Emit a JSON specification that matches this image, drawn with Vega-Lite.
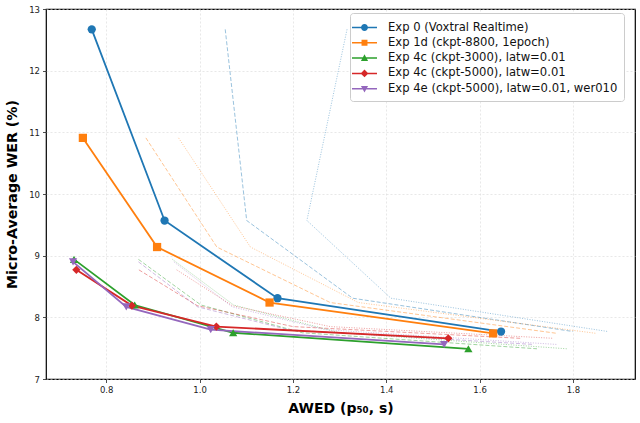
{
  "$schema": "https://vega.github.io/schema/vega-lite/v6.json",
  "width": 589,
  "height": 370,
  "autosize": "none",
  "padding": {"left": 46, "top": 9, "right": 5, "bottom": 44},
  "background": "white",
  "config": {
    "font": "DejaVu Sans",
    "view": {"stroke": "black", "strokeWidth": 1.2},
    "axis": {
      "domain": false,
      "grid": true,
      "gridColor": "#d8d8d8",
      "gridDash": [2, 2],
      "gridWidth": 0.6,
      "tickColor": "#222222",
      "tickSize": 3.5,
      "tickWidth": 0.8,
      "labelFontSize": 8.5,
      "labelColor": "#222222",
      "titleFontSize": 14.2,
      "titleFontWeight": "bold",
      "titleColor": "black"
    }
  },
  "data": {
    "values": [
      {"exp": "Exp 0 (Voxtral Realtime)", "stat": "p50", "i": 0, "awed": 0.769, "wer": 12.67},
      {"exp": "Exp 0 (Voxtral Realtime)", "stat": "p50", "i": 1, "awed": 0.925, "wer": 9.57},
      {"exp": "Exp 0 (Voxtral Realtime)", "stat": "p50", "i": 2, "awed": 1.167, "wer": 8.31},
      {"exp": "Exp 0 (Voxtral Realtime)", "stat": "p50", "i": 3, "awed": 1.646, "wer": 7.77},
      {"exp": "Exp 0 (Voxtral Realtime)", "stat": "p75", "i": 0, "awed": 1.055, "wer": 12.67},
      {"exp": "Exp 0 (Voxtral Realtime)", "stat": "p75", "i": 1, "awed": 1.101, "wer": 9.57},
      {"exp": "Exp 0 (Voxtral Realtime)", "stat": "p75", "i": 2, "awed": 1.328, "wer": 8.31},
      {"exp": "Exp 0 (Voxtral Realtime)", "stat": "p75", "i": 3, "awed": 1.8, "wer": 7.77},
      {"exp": "Exp 0 (Voxtral Realtime)", "stat": "p90", "i": 0, "awed": 1.316, "wer": 12.67},
      {"exp": "Exp 0 (Voxtral Realtime)", "stat": "p90", "i": 1, "awed": 1.23, "wer": 9.57},
      {"exp": "Exp 0 (Voxtral Realtime)", "stat": "p90", "i": 2, "awed": 1.41, "wer": 8.31},
      {"exp": "Exp 0 (Voxtral Realtime)", "stat": "p90", "i": 3, "awed": 1.875, "wer": 7.77},
      {"exp": "Exp 1d (ckpt-8800, 1epoch)", "stat": "p50", "i": 0, "awed": 0.75, "wer": 10.91},
      {"exp": "Exp 1d (ckpt-8800, 1epoch)", "stat": "p50", "i": 1, "awed": 0.909, "wer": 9.14},
      {"exp": "Exp 1d (ckpt-8800, 1epoch)", "stat": "p50", "i": 2, "awed": 1.15, "wer": 8.24},
      {"exp": "Exp 1d (ckpt-8800, 1epoch)", "stat": "p50", "i": 3, "awed": 1.629, "wer": 7.74},
      {"exp": "Exp 1d (ckpt-8800, 1epoch)", "stat": "p75", "i": 0, "awed": 0.885, "wer": 10.91},
      {"exp": "Exp 1d (ckpt-8800, 1epoch)", "stat": "p75", "i": 1, "awed": 1.037, "wer": 9.14},
      {"exp": "Exp 1d (ckpt-8800, 1epoch)", "stat": "p75", "i": 2, "awed": 1.28, "wer": 8.24},
      {"exp": "Exp 1d (ckpt-8800, 1epoch)", "stat": "p75", "i": 3, "awed": 1.766, "wer": 7.74},
      {"exp": "Exp 1d (ckpt-8800, 1epoch)", "stat": "p90", "i": 0, "awed": 0.955, "wer": 10.91},
      {"exp": "Exp 1d (ckpt-8800, 1epoch)", "stat": "p90", "i": 1, "awed": 1.109, "wer": 9.14},
      {"exp": "Exp 1d (ckpt-8800, 1epoch)", "stat": "p90", "i": 2, "awed": 1.34, "wer": 8.24},
      {"exp": "Exp 1d (ckpt-8800, 1epoch)", "stat": "p90", "i": 3, "awed": 1.85, "wer": 7.74},
      {"exp": "Exp 4c (ckpt-3000), latw=0.01", "stat": "p50", "i": 0, "awed": 0.731, "wer": 8.94},
      {"exp": "Exp 4c (ckpt-3000), latw=0.01", "stat": "p50", "i": 1, "awed": 0.861, "wer": 8.2},
      {"exp": "Exp 4c (ckpt-3000), latw=0.01", "stat": "p50", "i": 2, "awed": 1.072, "wer": 7.75},
      {"exp": "Exp 4c (ckpt-3000), latw=0.01", "stat": "p50", "i": 3, "awed": 1.576, "wer": 7.49},
      {"exp": "Exp 4c (ckpt-3000), latw=0.01", "stat": "p75", "i": 0, "awed": 0.869, "wer": 8.94},
      {"exp": "Exp 4c (ckpt-3000), latw=0.01", "stat": "p75", "i": 1, "awed": 1.003, "wer": 8.2},
      {"exp": "Exp 4c (ckpt-3000), latw=0.01", "stat": "p75", "i": 2, "awed": 1.22, "wer": 7.75},
      {"exp": "Exp 4c (ckpt-3000), latw=0.01", "stat": "p75", "i": 3, "awed": 1.723, "wer": 7.49},
      {"exp": "Exp 4c (ckpt-3000), latw=0.01", "stat": "p90", "i": 0, "awed": 0.942, "wer": 8.94},
      {"exp": "Exp 4c (ckpt-3000), latw=0.01", "stat": "p90", "i": 1, "awed": 1.073, "wer": 8.2},
      {"exp": "Exp 4c (ckpt-3000), latw=0.01", "stat": "p90", "i": 2, "awed": 1.3, "wer": 7.75},
      {"exp": "Exp 4c (ckpt-3000), latw=0.01", "stat": "p90", "i": 3, "awed": 1.787, "wer": 7.49},
      {"exp": "Exp 4c (ckpt-5000), latw=0.01", "stat": "p50", "i": 0, "awed": 0.736, "wer": 8.77},
      {"exp": "Exp 4c (ckpt-5000), latw=0.01", "stat": "p50", "i": 1, "awed": 0.855, "wer": 8.19},
      {"exp": "Exp 4c (ckpt-5000), latw=0.01", "stat": "p50", "i": 2, "awed": 1.036, "wer": 7.85},
      {"exp": "Exp 4c (ckpt-5000), latw=0.01", "stat": "p50", "i": 3, "awed": 1.533, "wer": 7.66},
      {"exp": "Exp 4c (ckpt-5000), latw=0.01", "stat": "p75", "i": 0, "awed": 0.87, "wer": 8.77},
      {"exp": "Exp 4c (ckpt-5000), latw=0.01", "stat": "p75", "i": 1, "awed": 0.995, "wer": 8.19},
      {"exp": "Exp 4c (ckpt-5000), latw=0.01", "stat": "p75", "i": 2, "awed": 1.2, "wer": 7.85},
      {"exp": "Exp 4c (ckpt-5000), latw=0.01", "stat": "p75", "i": 3, "awed": 1.687, "wer": 7.66},
      {"exp": "Exp 4c (ckpt-5000), latw=0.01", "stat": "p90", "i": 0, "awed": 0.951, "wer": 8.77},
      {"exp": "Exp 4c (ckpt-5000), latw=0.01", "stat": "p90", "i": 1, "awed": 1.07, "wer": 8.19},
      {"exp": "Exp 4c (ckpt-5000), latw=0.01", "stat": "p90", "i": 2, "awed": 1.28, "wer": 7.85},
      {"exp": "Exp 4c (ckpt-5000), latw=0.01", "stat": "p90", "i": 3, "awed": 1.758, "wer": 7.66},
      {"exp": "Exp 4e (ckpt-5000), latw=0.01, wer010", "stat": "p50", "i": 0, "awed": 0.729, "wer": 8.9},
      {"exp": "Exp 4e (ckpt-5000), latw=0.01, wer010", "stat": "p50", "i": 1, "awed": 0.843, "wer": 8.17},
      {"exp": "Exp 4e (ckpt-5000), latw=0.01, wer010", "stat": "p50", "i": 2, "awed": 1.024, "wer": 7.8},
      {"exp": "Exp 4e (ckpt-5000), latw=0.01, wer010", "stat": "p50", "i": 3, "awed": 1.524, "wer": 7.56},
      {"exp": "Exp 4e (ckpt-5000), latw=0.01, wer010", "stat": "p75", "i": 0, "awed": 0.869, "wer": 8.9},
      {"exp": "Exp 4e (ckpt-5000), latw=0.01, wer010", "stat": "p75", "i": 1, "awed": 0.996, "wer": 8.17},
      {"exp": "Exp 4e (ckpt-5000), latw=0.01, wer010", "stat": "p75", "i": 2, "awed": 1.19, "wer": 7.8},
      {"exp": "Exp 4e (ckpt-5000), latw=0.01, wer010", "stat": "p75", "i": 3, "awed": 1.716, "wer": 7.56},
      {"exp": "Exp 4e (ckpt-5000), latw=0.01, wer010", "stat": "p90", "i": 0, "awed": 0.945, "wer": 8.9},
      {"exp": "Exp 4e (ckpt-5000), latw=0.01, wer010", "stat": "p90", "i": 1, "awed": 1.07, "wer": 8.17},
      {"exp": "Exp 4e (ckpt-5000), latw=0.01, wer010", "stat": "p90", "i": 2, "awed": 1.27, "wer": 7.8},
      {"exp": "Exp 4e (ckpt-5000), latw=0.01, wer010", "stat": "p90", "i": 3, "awed": 1.766, "wer": 7.56}
    ]
  },
  "encoding": {
    "x": {
      "field": "awed", "type": "quantitative",
      "scale": {"domain": [0.671, 1.933], "nice": false, "zero": false},
      "axis": {"values": [0.8, 1.0, 1.2, 1.4, 1.6, 1.8], "format": ".1f", "title": "AWED (p₅₀, s)", "titleFontSize": 14, "titlePadding": 7, "labelPadding": 3}
    },
    "y": {
      "field": "wer", "type": "quantitative",
      "scale": {"domain": [7, 13], "nice": false, "zero": false},
      "axis": {"values": [7, 8, 9, 10, 11, 12, 13], "title": "Micro-Average WER (%)", "titlePadding": 9, "labelPadding": 3}
    },
    "order": {"field": "i", "type": "quantitative"}
  },
  "resolve": {"scale": {"color": "independent", "shape": "independent"}},
  "layer": [
    {
      "transform": [{"filter": "datum.stat !== 'p50'"}],
      "mark": {"type": "line", "strokeWidth": 1, "opacity": 0.45},
      "encoding": {
        "color": {
          "field": "exp", "type": "nominal", "legend": null,
          "scale": {
            "domain": ["Exp 0 (Voxtral Realtime)", "Exp 1d (ckpt-8800, 1epoch)", "Exp 4c (ckpt-3000), latw=0.01", "Exp 4c (ckpt-5000), latw=0.01", "Exp 4e (ckpt-5000), latw=0.01, wer010"],
            "range": ["#1f77b4", "#ff7f0e", "#2ca02c", "#d62728", "#9467bd"]
          }
        },
        "strokeDash": {
          "field": "stat", "type": "nominal", "legend": null,
          "scale": {"domain": ["p75", "p90"], "range": [[4, 2], [1, 1.5]]}
        }
      }
    },
    {
      "transform": [{"filter": "datum.stat === 'p50'"}],
      "mark": {"type": "line", "strokeWidth": 1.8},
      "encoding": {
        "color": {
          "field": "exp", "type": "nominal", "legend": null,
          "scale": {
            "domain": ["Exp 0 (Voxtral Realtime)", "Exp 1d (ckpt-8800, 1epoch)", "Exp 4c (ckpt-3000), latw=0.01", "Exp 4c (ckpt-5000), latw=0.01", "Exp 4e (ckpt-5000), latw=0.01, wer010"],
            "range": ["#1f77b4", "#ff7f0e", "#2ca02c", "#d62728", "#9467bd"]
          }
        }
      }
    },
    {
      "transform": [{"filter": "datum.stat === 'p50'"}],
      "mark": {"type": "point", "filled": true, "opacity": 1, "size": 68},
      "encoding": {
        "color": {
          "field": "exp", "type": "nominal", "legend": null,
          "scale": {
            "domain": ["Exp 0 (Voxtral Realtime)", "Exp 1d (ckpt-8800, 1epoch)", "Exp 4c (ckpt-3000), latw=0.01", "Exp 4c (ckpt-5000), latw=0.01", "Exp 4e (ckpt-5000), latw=0.01, wer010"],
            "range": ["#1f77b4", "#ff7f0e", "#2ca02c", "#d62728", "#9467bd"]
          }
        },
        "shape": {
          "field": "exp", "type": "nominal", "legend": null,
          "scale": {
            "domain": ["Exp 0 (Voxtral Realtime)", "Exp 1d (ckpt-8800, 1epoch)", "Exp 4c (ckpt-3000), latw=0.01", "Exp 4c (ckpt-5000), latw=0.01", "Exp 4e (ckpt-5000), latw=0.01, wer010"],
            "range": ["circle", "square", "triangle-up", "diamond", "triangle-down"]
          }
        }
      }
    },
    {
      "transform": [{"filter": "datum.stat === 'p50'"}],
      "mark": {"type": "point", "filled": true, "opacity": 0, "size": 289},
      "encoding": {
        "color": {
          "field": "exp", "type": "nominal",
          "scale": {
            "domain": ["Exp 0 (Voxtral Realtime)", "Exp 1d (ckpt-8800, 1epoch)", "Exp 4c (ckpt-3000), latw=0.01", "Exp 4c (ckpt-5000), latw=0.01", "Exp 4e (ckpt-5000), latw=0.01, wer010"],
            "range": ["#1f77b4", "#ff7f0e", "#2ca02c", "#d62728", "#9467bd"]
          },
          "legend": {
            "title": null, "orient": "none", "legendX": 304, "legendY": 4,
            "padding": 6, "fillColor": "white", "strokeColor": "#cccccc", "cornerRadius": 3,
            "symbolSize": 289, "symbolOpacity": 1, "symbolStrokeWidth": 0,
            "labelFontSize": 11.6, "labelColor": "#111111", "labelOffset": 15, "rowPadding": 0.3, "labelLimit": 400
          }
        },
        "shape": {
          "field": "exp", "type": "nominal",
          "scale": {
            "domain": ["Exp 0 (Voxtral Realtime)", "Exp 1d (ckpt-8800, 1epoch)", "Exp 4c (ckpt-3000), latw=0.01", "Exp 4c (ckpt-5000), latw=0.01", "Exp 4e (ckpt-5000), latw=0.01, wer010"],
            "range": [
              "M-1.47,-0.09H1.47V0.09H-1.47Z M0.41,0A0.41,0.41,0,1,1,-0.41,0A0.41,0.41,0,1,1,0.41,0Z",
              "M-1.47,-0.09H1.47V0.09H-1.47Z M-0.35,-0.35H0.35V0.35H-0.35Z",
              "M-1.47,-0.09H1.47V0.09H-1.47Z M0,-0.45L0.42,0.33H-0.42Z",
              "M-1.47,-0.09H1.47V0.09H-1.47Z M0,-0.46L0.46,0L0,0.46L-0.46,0Z",
              "M-1.47,-0.09H1.47V0.09H-1.47Z M0,0.45L-0.42,-0.33H0.42Z"
            ]
          },
          "legend": {
            "title": null, "orient": "none", "legendX": 304, "legendY": 4,
            "padding": 6, "fillColor": "white", "strokeColor": "#cccccc", "cornerRadius": 3,
            "symbolSize": 289, "symbolOpacity": 1, "symbolStrokeWidth": 0,
            "labelFontSize": 11.6, "labelColor": "#111111", "labelOffset": 15, "rowPadding": 0.3, "labelLimit": 400
          }
        }
      }
    }
  ]
}
